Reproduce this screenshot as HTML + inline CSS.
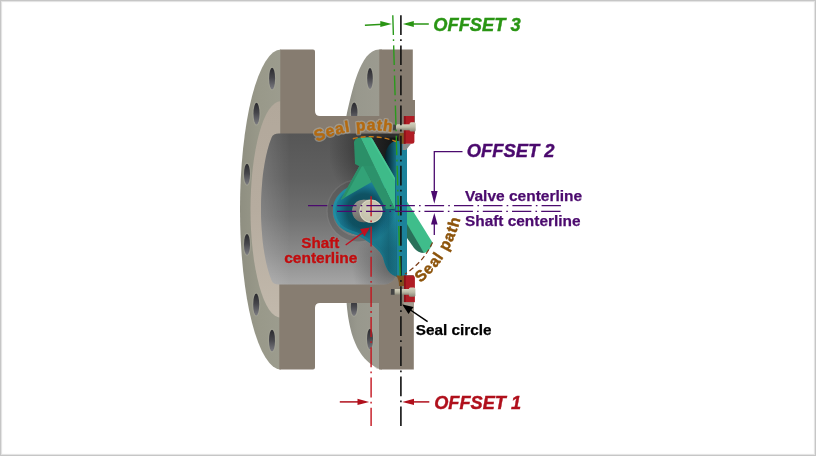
<!DOCTYPE html>
<html><head><meta charset="utf-8">
<style>
html,body{margin:0;padding:0;background:#fff;}
body{width:816px;height:456px;overflow:hidden;position:relative;}
#frame{position:absolute;left:0;top:0;width:816px;height:456px;box-sizing:border-box;border:1px solid #c6c6c6;box-shadow:inset 0 0 1px 1px #e2e2e2;}
svg{position:absolute;left:0;top:0;will-change:transform;}
text{font-family:"Liberation Sans",sans-serif;font-weight:bold;}
</style></head>
<body>
<svg width="816" height="456" viewBox="0 0 816 456">
<defs>
  <linearGradient id="rim" x1="0" y1="0" x2="1" y2="0">
    <stop offset="0" stop-color="#8f8f81"/>
    <stop offset="0.5" stop-color="#99998a"/>
    <stop offset="1" stop-color="#9c9c8e"/>
  </linearGradient>
  <linearGradient id="lip" x1="0" y1="0" x2="0" y2="1">
    <stop offset="0" stop-color="#b2a89b"/>
    <stop offset="0.5" stop-color="#b6ac9f"/>
    <stop offset="1" stop-color="#c2b9ac"/>
  </linearGradient>
  <linearGradient id="bore" x1="0" y1="133" x2="0" y2="285" gradientUnits="userSpaceOnUse">
    <stop offset="0" stop-color="#565656"/>
    <stop offset="0.3" stop-color="#606060"/>
    <stop offset="0.55" stop-color="#707070"/>
    <stop offset="0.8" stop-color="#8b8b8b"/>
    <stop offset="1" stop-color="#a6a6a6"/>
  </linearGradient>
  <linearGradient id="boreL" x1="258" y1="0" x2="290" y2="0" gradientUnits="userSpaceOnUse">
    <stop offset="0" stop-color="#ffffff" stop-opacity="0.16"/>
    <stop offset="1" stop-color="#ffffff" stop-opacity="0"/>
  </linearGradient>
  <radialGradient id="boreDark" cx="388" cy="150" r="60" gradientUnits="userSpaceOnUse">
    <stop offset="0" stop-color="#111" stop-opacity="0.85"/>
    <stop offset="0.6" stop-color="#222" stop-opacity="0.4"/>
    <stop offset="1" stop-color="#222" stop-opacity="0"/>
  </radialGradient>
  <radialGradient id="boreDark2" cx="392" cy="268" r="40" gradientUnits="userSpaceOnUse">
    <stop offset="0" stop-color="#222" stop-opacity="0.45"/>
    <stop offset="1" stop-color="#222" stop-opacity="0"/>
  </radialGradient>
  <linearGradient id="rface" x1="0" y1="0" x2="1" y2="0">
    <stop offset="0" stop-color="#8e8e84"/>
    <stop offset="0.3" stop-color="#98988d"/>
    <stop offset="1" stop-color="#9c9b90"/>
  </linearGradient>
  <linearGradient id="hole" x1="0" y1="0" x2="0" y2="1">
    <stop offset="0" stop-color="#2a2a2e"/>
    <stop offset="0.45" stop-color="#45454a"/>
    <stop offset="1" stop-color="#7a7a80"/>
  </linearGradient>
  <linearGradient id="plate" x1="385" y1="0" x2="396" y2="0" gradientUnits="userSpaceOnUse">
    <stop offset="0" stop-color="#071f28"/>
    <stop offset="0.5" stop-color="#0c4252"/>
    <stop offset="1" stop-color="#176f84"/>
  </linearGradient>
  <linearGradient id="plateLow" x1="380" y1="0" x2="397" y2="0" gradientUnits="userSpaceOnUse">
    <stop offset="0" stop-color="#0a3a48" stop-opacity="0"/>
    <stop offset="0.5" stop-color="#0a3a48" stop-opacity="0.25"/>
    <stop offset="1" stop-color="#0a3a48" stop-opacity="0"/>
  </linearGradient>
  <linearGradient id="hubShade" x1="0" y1="215" x2="0" y2="250" gradientUnits="userSpaceOnUse">
    <stop offset="0" stop-color="#0a3a48" stop-opacity="0"/>
    <stop offset="1" stop-color="#0a3a48" stop-opacity="0.3"/>
  </linearGradient>
  <clipPath id="hubClip"><path d="M347.3,188 C341,191 335,198 333.3,206 C332.3,213 334,220 339,226 C344,231 350,233 357,235 C365,239 372,244 377,249 C381,253 383,256 384,261 C386,268 389,273 393,275 C396,277 400,277.5 403,277.5 L407,277 L407,170 L372,182 Z"/></clipPath>
  <linearGradient id="gap" x1="372" y1="0" x2="398" y2="0" gradientUnits="userSpaceOnUse">
    <stop offset="0" stop-color="#262626"/>
    <stop offset="1" stop-color="#111313"/>
  </linearGradient>
  <radialGradient id="hub" cx="364" cy="211" r="31" gradientUnits="userSpaceOnUse">
    <stop offset="0" stop-color="#0c4858"/>
    <stop offset="0.55" stop-color="#0f5364"/>
    <stop offset="0.78" stop-color="#17718a"/>
    <stop offset="1" stop-color="#1f889e"/>
  </radialGradient>
  <linearGradient id="shaft" x1="0" y1="200" x2="0" y2="223" gradientUnits="userSpaceOnUse">
    <stop offset="0" stop-color="#98978f"/>
    <stop offset="0.5" stop-color="#85847e"/>
    <stop offset="1" stop-color="#6a6964"/>
  </linearGradient>
  <radialGradient id="sface" cx="0.45" cy="0.45" r="0.6">
    <stop offset="0" stop-color="#d0cdb8"/>
    <stop offset="1" stop-color="#c2bfaa"/>
  </radialGradient>
  <linearGradient id="bolt" x1="0" y1="0" x2="0" y2="1">
    <stop offset="0" stop-color="#d4d2be"/>
    <stop offset="0.5" stop-color="#bcbaa6"/>
    <stop offset="1" stop-color="#8a8878"/>
  </linearGradient>
  <path id="sp1" d="M 306.5,147 A 127,127 0 0 1 413.4,137.7"/>
  <path id="sp2" d="M 413.2,288.4 A 118,118 0 0 0 463.5,191.7"/>
<clipPath id="boreClip"><path d="M404,133.5 H279 Q273.1,133.5 271.6,137.5 L269.3,143.7 L267.5,149.9 L266.0,156.2 L264.8,162.4 L263.8,168.6 L262.9,174.8 L262.3,181.0 L261.8,187.2 L261.4,193.5 L261.1,199.7 L261.0,205.9 L261.0,212.1 L261.1,218.3 L261.4,224.5 L261.8,230.8 L262.3,237.0 L262.9,243.2 L263.8,249.4 L264.8,255.6 L266.0,261.8 L267.5,268.1 L269.3,274.3 L271.6,280.5 Q273.1,284.5 279,284.5 H384 Q392,284.5 396,276 L404,276 Z"/></clipPath>
</defs>

<!-- LEFT FLANGE -->
<path d="M281,49.5 A41,160 0 0 0 281,369.5 Z" fill="url(#rim)"/>
<path d="M280.5,101.3 A30,108.2 0 0 0 280.5,317.7 Z" fill="url(#lip)"/>

<!-- right flange curved faces -->
<path d="M382,49.6 H379 C360,49.6 351.7,92.8 346.3,116.6 H382 Z" fill="url(#rface)"/>
<path d="M382,303 H346.6 C349.5,340.7 360.8,362.2 381,369.5 H382 Z" fill="url(#rface)"/>
<path d="M372,303 H379.5 V369 H377 Q372,366 372,360 Z" fill="#a3a197" opacity="0.5"/>

<!-- bolt holes -->
<g fill="#a8a89a" opacity="0.5">
  <ellipse cx="272.1" cy="78.5" rx="4.2" ry="12.0"/>
  <ellipse cx="256.5" cy="113.6" rx="4.2" ry="12.1"/>
  <ellipse cx="247" cy="174.2" rx="4.2" ry="11.7"/>
  <ellipse cx="247" cy="244.4" rx="4.2" ry="11.7"/>
  <ellipse cx="256.2" cy="304.5" rx="4.2" ry="12.1"/>
  <ellipse cx="272" cy="340.5" rx="4.2" ry="12.0"/>
  <ellipse cx="370" cy="78.6" rx="4.0" ry="11.7"/>
  <ellipse cx="354.2" cy="112.5" rx="4.5" ry="11.2"/>
  <ellipse cx="354" cy="307" rx="4.4" ry="10.2"/>
  <ellipse cx="370" cy="339" rx="4.2" ry="11.5"/>
</g>
<g fill="url(#hole)">
  <ellipse cx="272.1" cy="78.5" rx="3" ry="10.8"/>
  <ellipse cx="256.5" cy="113.6" rx="3" ry="10.9"/>
  <ellipse cx="247" cy="174.2" rx="3" ry="10.5"/>
  <ellipse cx="247" cy="244.4" rx="3" ry="10.5"/>
  <ellipse cx="256.2" cy="304.5" rx="3" ry="10.9"/>
  <ellipse cx="272" cy="340.5" rx="3" ry="10.8"/>
  <ellipse cx="370" cy="78.6" rx="2.8" ry="10.5"/>
  <ellipse cx="354.2" cy="112.5" rx="3.3" ry="10"/>
  <ellipse cx="354" cy="307" rx="3.2" ry="9"/>
  <ellipse cx="370" cy="339" rx="3" ry="10.3"/>
</g>

<!-- CUT FACES -->
<path d="M280.3,49.6 H313 Q315,49.6 315,51.6 V111 Q315,116 320,116 H379.3 V49.6 H412.8 V100 H415 V134 H280.3 Z" fill="#867c70"/>
<path d="M279.3,284 H384 Q391,283.5 395,275 H413.8 V369.5 H379 V303 H320 Q315,303 315,308 V367.5 Q315,369.5 313,369.5 H279.3 Z" fill="#877d71"/>

<!-- BORE -->
<path d="M404,133.5 H279 Q273.1,133.5 271.6,137.5 L269.3,143.7 L267.5,149.9 L266.0,156.2 L264.8,162.4 L263.8,168.6 L262.9,174.8 L262.3,181.0 L261.8,187.2 L261.4,193.5 L261.1,199.7 L261.0,205.9 L261.0,212.1 L261.1,218.3 L261.4,224.5 L261.8,230.8 L262.3,237.0 L262.9,243.2 L263.8,249.4 L264.8,255.6 L266.0,261.8 L267.5,268.1 L269.3,274.3 L271.6,280.5 Q273.1,284.5 279,284.5 H384 Q392,284.5 396,276 L404,276 Z" fill="url(#bore)"/>
<path d="M404,133.5 H279 Q273.1,133.5 271.6,137.5 L269.3,143.7 L267.5,149.9 L266.0,156.2 L264.8,162.4 L263.8,168.6 L262.9,174.8 L262.3,181.0 L261.8,187.2 L261.4,193.5 L261.1,199.7 L261.0,205.9 L261.0,212.1 L261.1,218.3 L261.4,224.5 L261.8,230.8 L262.3,237.0 L262.9,243.2 L263.8,249.4 L264.8,255.6 L266.0,261.8 L267.5,268.1 L269.3,274.3 L271.6,280.5 Q273.1,284.5 279,284.5 H384 Q392,284.5 396,276 L404,276 Z" fill="url(#boreL)"/>
<path d="M330,133.5 H404 V205 H330 Z" fill="url(#boreDark)" clip-path="url(#boreClip)"/>
<path d="M340,240 H404 V285 H340 Z" fill="url(#boreDark2)" clip-path="url(#boreClip)"/>
<!-- shaft bore ring -->
<circle cx="358" cy="211" r="28" fill="none" stroke="#4a4a4a" stroke-opacity="0.35" stroke-width="5"/>
<circle cx="358" cy="211" r="31" fill="none" stroke="#8a8a8a" stroke-opacity="0.25" stroke-width="1.5"/>

<!-- DISC -->
<!-- hub body -->
<path d="M347.3,188 C341,191 335,198 333.3,206 C332.3,213 334,220 339,226 C344,231 350,233 357,235 C365,239 372,244 377,249 C381,253 383,256 384,261 C386,268 389,273 393,275 C396,277 400,277.5 403,277.5 L407,277 L407,170 L372,182 Z" fill="url(#hub)"/>
<path d="M347.3,188 C341,191 335,198 333.3,206 C332.3,213 334,220 339,226 C344,231 350,233 357,235 C365,239 372,244 377,249 C381,253 383,256 384,261 C386,268 389,273 393,275" fill="none" stroke="#2190a6" stroke-width="5" stroke-opacity="0.75" clip-path="url(#hubClip)"/>
<!-- dark gap -->
<path d="M371.5,137.5 L398,137.5 L398,180 L395,180 Z" fill="url(#gap)"/>
<!-- plate -->
<path d="M396,140.8 C402,141 406,143 407,146 V277 H396 Z" fill="#1c829b"/>
<path d="M385,156 C386,148 390,142 396,140.8 L396,211 L385,208 Z" fill="url(#plate)"/>
<path d="M340,205 H397 V278 H340 Z" fill="url(#hubShade)" clip-path="url(#hubClip)"/>
<path d="M380,200 H397 V278 H380 Z" fill="url(#plateLow)" clip-path="url(#hubClip)"/>
<!-- upper side face -->
<path d="M354,142 Q354.5,139 357.5,138 L360.5,137.5 L374.5,166 L359.3,166.2 L355,164 Z" fill="#2b8f68"/>
<!-- rib -->
<path d="M359.3,166.2 L364,166 L371.8,182 L340.9,199.7 Z" fill="#32a277"/>
<path d="M359.3,166.2 L362,166.1 L344.5,198 L340.9,199.7 Z" fill="#2b8f69"/>
<!-- lower side face of arm -->
<path d="M363,166 L374.5,166 L395,209 L386,209 Z" fill="#2c926b"/>
<!-- green arm main face -->
<path d="M360.5,137.5 L370,137.3 Q372,137.6 372.5,139 L395,178 L395,209 Z" fill="#3ebb89"/>
<path d="M370,137.3 Q372,137.6 372.5,139 L395,178 L395,181 L371,140 Z" fill="#4ccb97" opacity="0.7"/>
<!-- green arm lower right -->
<path d="M407,201.5 L432.5,242.5 Q431,251 424,253 L407,230 Z" fill="#3fbd8b"/>
<path d="M407,224 L424,253 Q418,253 414,248 L407,238 Z" fill="#29705a"/>
<!-- shaft -->
<circle cx="363.3" cy="211" r="11.2" fill="url(#shaft)"/>
<rect x="363.3" y="199.8" width="8.6" height="22.4" fill="url(#shaft)"/>
<circle cx="371" cy="211.2" r="11.6" fill="url(#sface)"/>
<circle cx="371" cy="211.2" r="11" fill="none" stroke="#dad7c3" stroke-width="1"/>

<!-- red seals -->
<path d="M399.5,133 H404 V144 H399.5 Z" fill="#7c5a26"/>
<path d="M402.5,143.8 H411 L406,150 H402.5 Z" fill="#8c8c8a"/>
<path d="M403.9,116.1 H414.4 V141.3 Q414.4,143.8 411.9,143.8 H403.9 Z" fill="#b01c24"/>
<rect x="403.9" y="116.1" width="1.8" height="27.7" fill="#8c1219"/>
<path d="M396,275.5 C398,278 399,281 399,286 H404 V275.5 Z" fill="#7e5220"/>
<path d="M404,275.4 H412.4 Q414.9,275.4 414.9,277.9 V302.3 H404 Z" fill="#b01c24"/>
<rect x="404" y="275.4" width="1.8" height="26.9" fill="#8c1219"/>
<path d="M402.5,302.3 H413.8 V316 Z" fill="#a39b8e"/>
<!-- bolts -->
<rect x="392.5" y="124.3" width="18" height="6" fill="url(#bolt)"/>
<rect x="392.5" y="124.3" width="3.5" height="6" fill="#444"/>
<rect x="409.6" y="122.3" width="6.1" height="9.2" rx="1.5" fill="url(#bolt)"/>
<rect x="390.8" y="289" width="19" height="5.8" fill="url(#bolt)"/>
<rect x="390.8" y="289" width="3.8" height="5.8" fill="#444"/>
<rect x="408.9" y="287.5" width="6.5" height="9.3" rx="1.5" fill="url(#bolt)"/>

<!-- CENTER LINES -->
<g fill="none" stroke-width="1.4">
  <line x1="400.9" y1="15.3" x2="400.9" y2="426" stroke="#111" stroke-width="1.6" stroke-dasharray="19.7,4.3,1.8,4.3"/>
  <line x1="392.8" y1="15.3" x2="400.3" y2="278" stroke="#2a9a1c" stroke-dasharray="19.7,4.3,1.8,4.3"/>
  <line x1="371.1" y1="196.3" x2="371.1" y2="426" stroke="#c4141f" stroke-dasharray="20,4.2,1.8,4.2"/>
  <line x1="308" y1="205.6" x2="561.5" y2="205.6" stroke="#4b0a6e" stroke-width="1.15" stroke-dasharray="19.3,4.15,1.6,4.15"/>
  <line x1="337" y1="211.3" x2="561.5" y2="211.3" stroke="#4b0a6e" stroke-width="1.15" stroke-dasharray="19.3,4.15,1.6,4.15" stroke-dashoffset="0.2"/>
</g>
<!-- seal path dashed arcs -->
<path d="M352.8,138.7 A72,72 0 0 1 396,141.5" fill="none" stroke="#c87818" stroke-width="1.4" stroke-dasharray="5,3"/>
<path d="M432.5,242.4 A72,72 0 0 1 404.9,274" fill="none" stroke="#7a3a14" stroke-width="1.2" stroke-dasharray="5,3"/>

<!-- ARROWS -->
<g stroke-width="1.5" fill="none">
  <line x1="364.9" y1="25.2" x2="388" y2="24.1" stroke="#2a9514"/>
  <line x1="406" y1="24" x2="428.8" y2="24" stroke="#2a9514"/>
  <line x1="339.8" y1="401.9" x2="365" y2="401.9" stroke="#b0101c"/>
  <line x1="406" y1="401.9" x2="429.3" y2="401.9" stroke="#b0101c"/>
  <polyline points="462.5,151.6 434.3,151.6 434.3,196" stroke="#4b0a6e" stroke-width="1.3"/>
  <line x1="434.3" y1="220" x2="434.3" y2="235" stroke="#4b0a6e" stroke-width="1.3"/>
  <line x1="427.6" y1="321.7" x2="406" y2="307" stroke="#000"/>
  <line x1="345.7" y1="245" x2="365" y2="231" stroke="#c01020"/>
</g>
<g stroke="none">
  <path d="M391.8,24 L380.3,21.1 L380.3,27.1 Z" fill="#2a9514"/>
  <path d="M402.8,24 L413.8,21 L413.8,27 Z" fill="#2a9514"/>
  <path d="M369.2,401.9 L357.5,398.7 L357.5,405.1 Z" fill="#b0101c"/>
  <path d="M402.3,401.9 L414,398.7 L414,405.1 Z" fill="#b0101c"/>
  <path d="M434.3,203.8 L431,191 L437.6,191 Z" fill="#4b0a6e"/>
  <path d="M434.3,213 L431,224.5 L437.6,224.5 Z" fill="#4b0a6e"/>
  <path d="M402.3,304.5 L413.5,307 L408.5,314 Z" fill="#000"/>
  <path d="M370,227.4 L360,229 L364.5,236.5 Z" fill="#c01020"/>
</g>

<!-- TEXT -->
<text x="433.3" y="30.6" font-size="18.3" font-style="italic" fill="#2a9514" stroke="#2a9514" stroke-width="0.4">OFFSET 3</text>
<text x="466.7" y="156.5" font-size="18.4" font-style="italic" fill="#4b0a6e" stroke="#4b0a6e" stroke-width="0.4">OFFSET 2</text>
<text x="434.2" y="409.2" font-size="18.2" font-style="italic" fill="#b0101c" stroke="#b0101c" stroke-width="0.4">OFFSET 1</text>
<text x="465" y="201" font-size="15.5" fill="#4b0a6e" stroke="#4b0a6e" stroke-width="0.25">Valve centerline</text>
<text x="465" y="225.6" font-size="15.4" fill="#4b0a6e" stroke="#4b0a6e" stroke-width="0.25">Shaft centerline</text>
<text x="415.8" y="335.2" font-size="15.3" fill="#000" stroke="#000" stroke-width="0.25">Seal circle</text>
<g fill="none" stroke="#8fa4a4" stroke-width="1.6" stroke-opacity="0.4">
<text x="320.3" y="248" font-size="15.2" text-anchor="middle">Shaft</text>
<text x="320.8" y="263.4" font-size="15.5" text-anchor="middle">centerline</text>
</g>
<g fill="#c20c0e" stroke="#c20c0e" stroke-width="0.35">
<text x="320.3" y="248" font-size="15.2" text-anchor="middle">Shaft</text>
<text x="320.8" y="263.4" font-size="15.5" text-anchor="middle">centerline</text>
</g>
<text font-size="15.5" fill="none" stroke="#b8b0a0" stroke-opacity="0.55" stroke-width="3.2" stroke-linejoin="round" letter-spacing="1"><textPath href="#sp1" startOffset="11.5">Seal path</textPath></text>
<text font-size="15.5" fill="#b46a10" stroke="#b46a10" stroke-width="0.45" letter-spacing="1"><textPath href="#sp1" startOffset="11.5">Seal path</textPath></text>
<text font-size="15.5" fill="#8c530a" stroke="#8c530a" stroke-width="0.45" letter-spacing="1.0"><textPath href="#sp2" startOffset="9">Seal path</textPath></text>
</svg>
<div id="frame"></div>
</body></html>
